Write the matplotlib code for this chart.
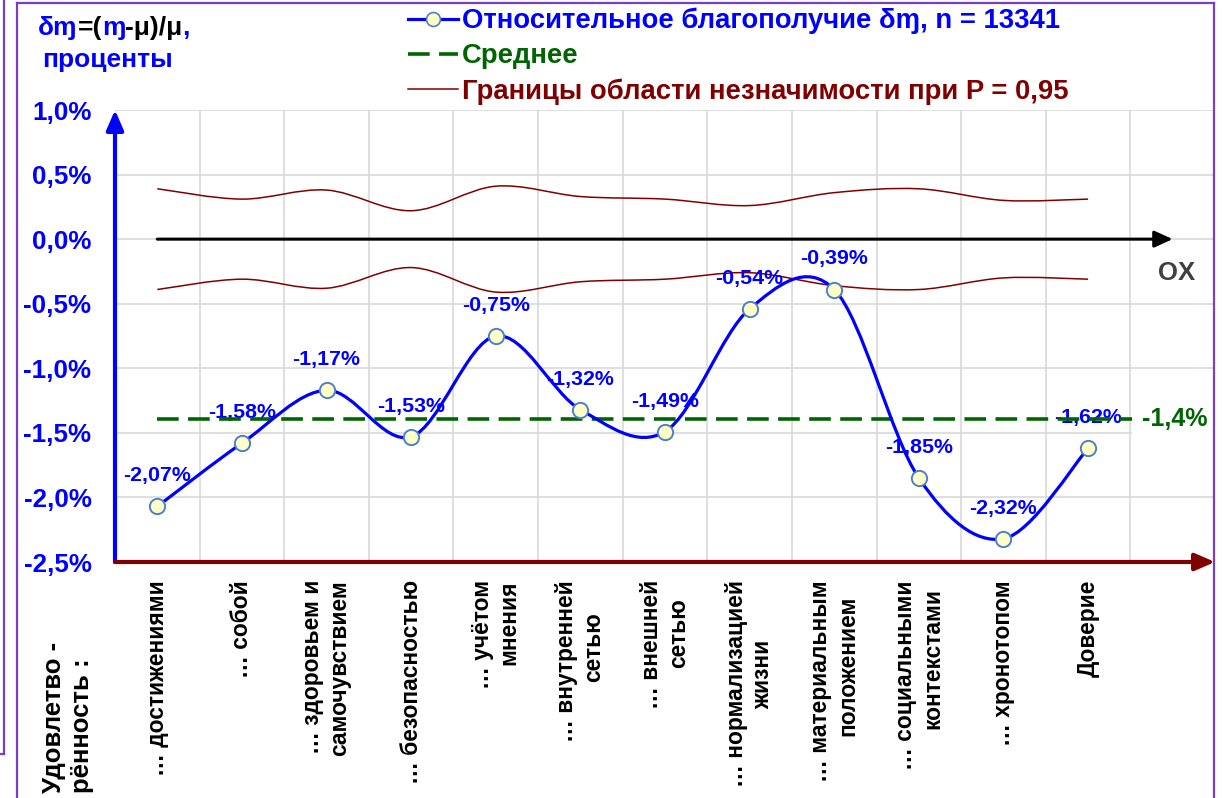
import numpy as np
import matplotlib
matplotlib.use('Agg')
import matplotlib.pyplot as plt
from matplotlib.path import Path
from matplotlib.patches import PathPatch
from matplotlib.lines import Line2D

plt.rcParams['font.family'] = ['Liberation Sans', 'DejaVu Sans']
plt.rcParams['font.weight'] = 'bold'

# --- values
categories = ['… достижениями', '… собой', '… здоровьем и\nсамочувствием',
              '… безопасностью', '… учётом\nмнения', '… внутренней\nсетью',
              '… внешней\nсетью', '… нормализацией\nжизни',
              '… материальным\nположением', '… социальными\nконтекстами',
              '… хронотопом', 'Доверие']
delta = [-2.07, -1.58, -1.17, -1.53, -0.75, -1.32, -1.49, -0.54, -0.39,
         -1.85, -2.32, -1.62]
upper = [0.39, 0.31, 0.38, 0.22, 0.41, 0.33, 0.31, 0.26, 0.36, 0.39, 0.30, 0.31]
lower = [-0.39, -0.31, -0.38, -0.22, -0.41, -0.33, -0.31, -0.26, -0.36,
         -0.39, -0.30, -0.31]
mean_value = -1.39
n_total = 13341
yticks = [-2.5, -2.0, -1.5, -1.0, -0.5, 0.0, 0.5, 1.0]
n_slots = 13  # one empty slot on the right, as in the source sheet

BLUE = '#0000ff'
GREEN = '#006400'
DARKRED = '#800000'
PURPLE = '#7a3fc0'
GRID = '#d9d9d9'

W, H = 1222, 798


def pct(v, nd):
    return f'{v:.{nd}f}%'.replace('.', ',')


def smooth_path(x, y):
    # excel-like smoothed line: bezier segments with catmull-rom handles
    x = np.asarray(x, float)
    y = np.asarray(y, float)
    px = np.r_[x[0], x, x[-1]]
    py = np.r_[y[0], y, y[-1]]
    verts = [(x[0], y[0])]
    codes = [Path.MOVETO]
    for i in range(1, len(x)):
        c1 = (px[i] + (px[i + 1] - px[i - 1]) / 6, py[i] + (py[i + 1] - py[i - 1]) / 6)
        c2 = (px[i + 1] - (px[i + 2] - px[i]) / 6, py[i + 1] - (py[i + 2] - py[i]) / 6)
        verts += [c1, c2, (px[i + 1], py[i + 1])]
        codes += [Path.CURVE4] * 3
    return Path(verts, codes)


fig = plt.figure(figsize=(W / 100, H / 100), dpi=100)
ax = fig.add_axes([115 / W, 1 - 562 / H, 1100 / W, 452 / H])
ax.set_xlim(-0.5, n_slots - 0.5)
ax.set_ylim(yticks[0], yticks[-1])
for s in ax.spines.values():
    s.set_visible(False)

xs = np.arange(len(delta))

# grid
ax.set_xticks(xs)
ax.set_xticklabels([])
ax.set_xticks(np.arange(n_slots + 1) - 0.5, minor=True)
ax.set_yticks(yticks)
ax.set_yticklabels([pct(v, 1) for v in yticks], color=BLUE, fontsize=18.7,
                   fontweight='bold')
ax.tick_params(which='both', length=0)
ax.tick_params(axis='y', pad=17)
ax.grid(axis='x', which='minor', color=GRID, lw=1.2, zorder=0)
ax.grid(axis='y', which='major', color=GRID, lw=1.2, zorder=0)
ax.set_axisbelow(True)

# significance bounds
for b in (upper, lower):
    ax.add_patch(PathPatch(smooth_path(xs, b), fc='none', ec=DARKRED, lw=1.1,
                           zorder=2))

# data labels (under the lines, like in the source)
for x, v in zip(xs, delta):
    ax.annotate(pct(v, 2), (x, v), xytext=(0, 22), textcoords='offset points',
                ha='center', va='center', color=BLUE, fontsize=15.4,
                fontweight='bold', zorder=3)

# mean line
slots = np.arange(n_slots)
mean_line, = ax.plot(slots, [mean_value] * n_slots, color=GREEN, lw=2.6,
                     dashes=(6, 2.6), zorder=4)
ax.text(slots[-1] + 0.03, mean_value, pct(mean_value, 1), color=GREEN,
        fontsize=18, fontweight='bold', ha='center', va='center', zorder=5,
        bbox=dict(boxstyle='square,pad=0.4', fc='white', ec='none'))

# zero line with arrow
ax.annotate('', xy=(slots[-1], 0), xytext=(0, 0),
            arrowprops=dict(arrowstyle='-|>,head_length=0.55,head_width=0.25',
                            color='black', lw=2.2, shrinkA=0, shrinkB=0,
                            mutation_scale=20), zorder=4)
ax.text(slots[-1] + 0.05, -0.26, 'OX', color='#404040', fontsize=18.5,
        fontweight='bold', ha='center', va='center')

# main series
ax.add_patch(PathPatch(smooth_path(xs, delta), fc='none', ec=BLUE, lw=2.3,
                       zorder=6))
ax.plot(xs, delta, 'o', ls='none', ms=11, mfc='#ffffc8', mec='#4f7fc8',
        mew=1.4, zorder=7)

# axes arrows
ax.annotate('', xy=(0, 1), xytext=(0, 0), xycoords='axes fraction',
            arrowprops=dict(arrowstyle='-|>,head_length=0.6,head_width=0.26',
                            color=BLUE, lw=3, shrinkA=0, shrinkB=0,
                            mutation_scale=20), zorder=8, annotation_clip=False)
ax.annotate('', xy=(1, 0), xytext=(0, 0), xycoords='axes fraction',
            arrowprops=dict(arrowstyle='-|>,head_length=0.6,head_width=0.26',
                            color=DARKRED, lw=3, shrinkA=0, shrinkB=0,
                            mutation_scale=20), zorder=8, annotation_clip=False)

# category labels, rotated, each line placed separately
line_gap = 19.5  # points between line centres
second_shift = {5: 23, 6: 13, 7: 43, 8: 11, 9: 6}
for i, lab in enumerate(categories):
    lines = lab.split('\n')
    n = len(lines)
    for j, ln in enumerate(lines):
        dx = (j - (n - 1) / 2) * line_gap
        dy = -13 - (second_shift.get(i, 0) if j > 0 else 0)
        ax.annotate(ln, (i, 0), xycoords=('data', 'axes fraction'),
                    xytext=(dx, dy), textcoords='offset points', rotation=90,
                    ha='center', va='top', fontsize=16.4, fontweight='bold',
                    color='black', annotation_clip=False)

fig.text(68 / W, 1 - 793 / H, 'Удовлетво -\nрённость :', rotation=90,
         ha='center', va='bottom', multialignment='left', fontsize=18.5,
         fontweight='bold', color='black', linespacing=1.25)

# y title, coloured pieces
renderer = fig.canvas.get_renderer()
pieces = [('δɱ', BLUE), ('=(', 'black'), ('ɱ', BLUE), ('-μ)/μ', 'black'),
          (',', BLUE)]
xp = 38
for s, c in pieces:
    t = fig.text(xp / W, 1 - 28 / H, s, color=c, fontsize=19,
                 fontweight='bold', ha='left', va='center')
    xp += t.get_window_extent(renderer).width
fig.text(108 / W, 1 - 60 / H, 'проценты', color=BLUE, fontsize=19,
         fontweight='bold', ha='center', va='center')

# legend
h_delta = Line2D([], [], color=BLUE, lw=2.3, marker='o', ms=10,
                 mfc='#ffffc8', mec='#4f7fc8', mew=1.2)
h_bound = Line2D([], [], color=DARKRED, lw=1.1)
fig.legend([h_delta, mean_line, h_bound],
           [f'Относительное благополучие δɱ, n = {n_total}', 'Среднее',
            'Границы области незначимости при P = 0,95'],
           loc='upper left', bbox_to_anchor=(408 / W, 1 - 8 / H),
           frameon=False, prop=dict(size=19.8, weight='bold'),
           labelcolor='linecolor', handlelength=1.8, handletextpad=0.15,
           labelspacing=0.32, borderaxespad=0, borderpad=0)

# outer frames
frame = [((17, 17), (798, 3)), ((17, 1214), (3, 3)), ((1214, 1214), (3, 798)),
         ((4, 4), (0, 754)), ((0, 4), (754, 754))]
for fx, fy in frame:
    fig.add_artist(Line2D([v / W for v in fx], [1 - v / H for v in fy],
                          color=PURPLE, lw=1.6, zorder=20))

fig.savefig('out.png', dpi=100, facecolor='white')
